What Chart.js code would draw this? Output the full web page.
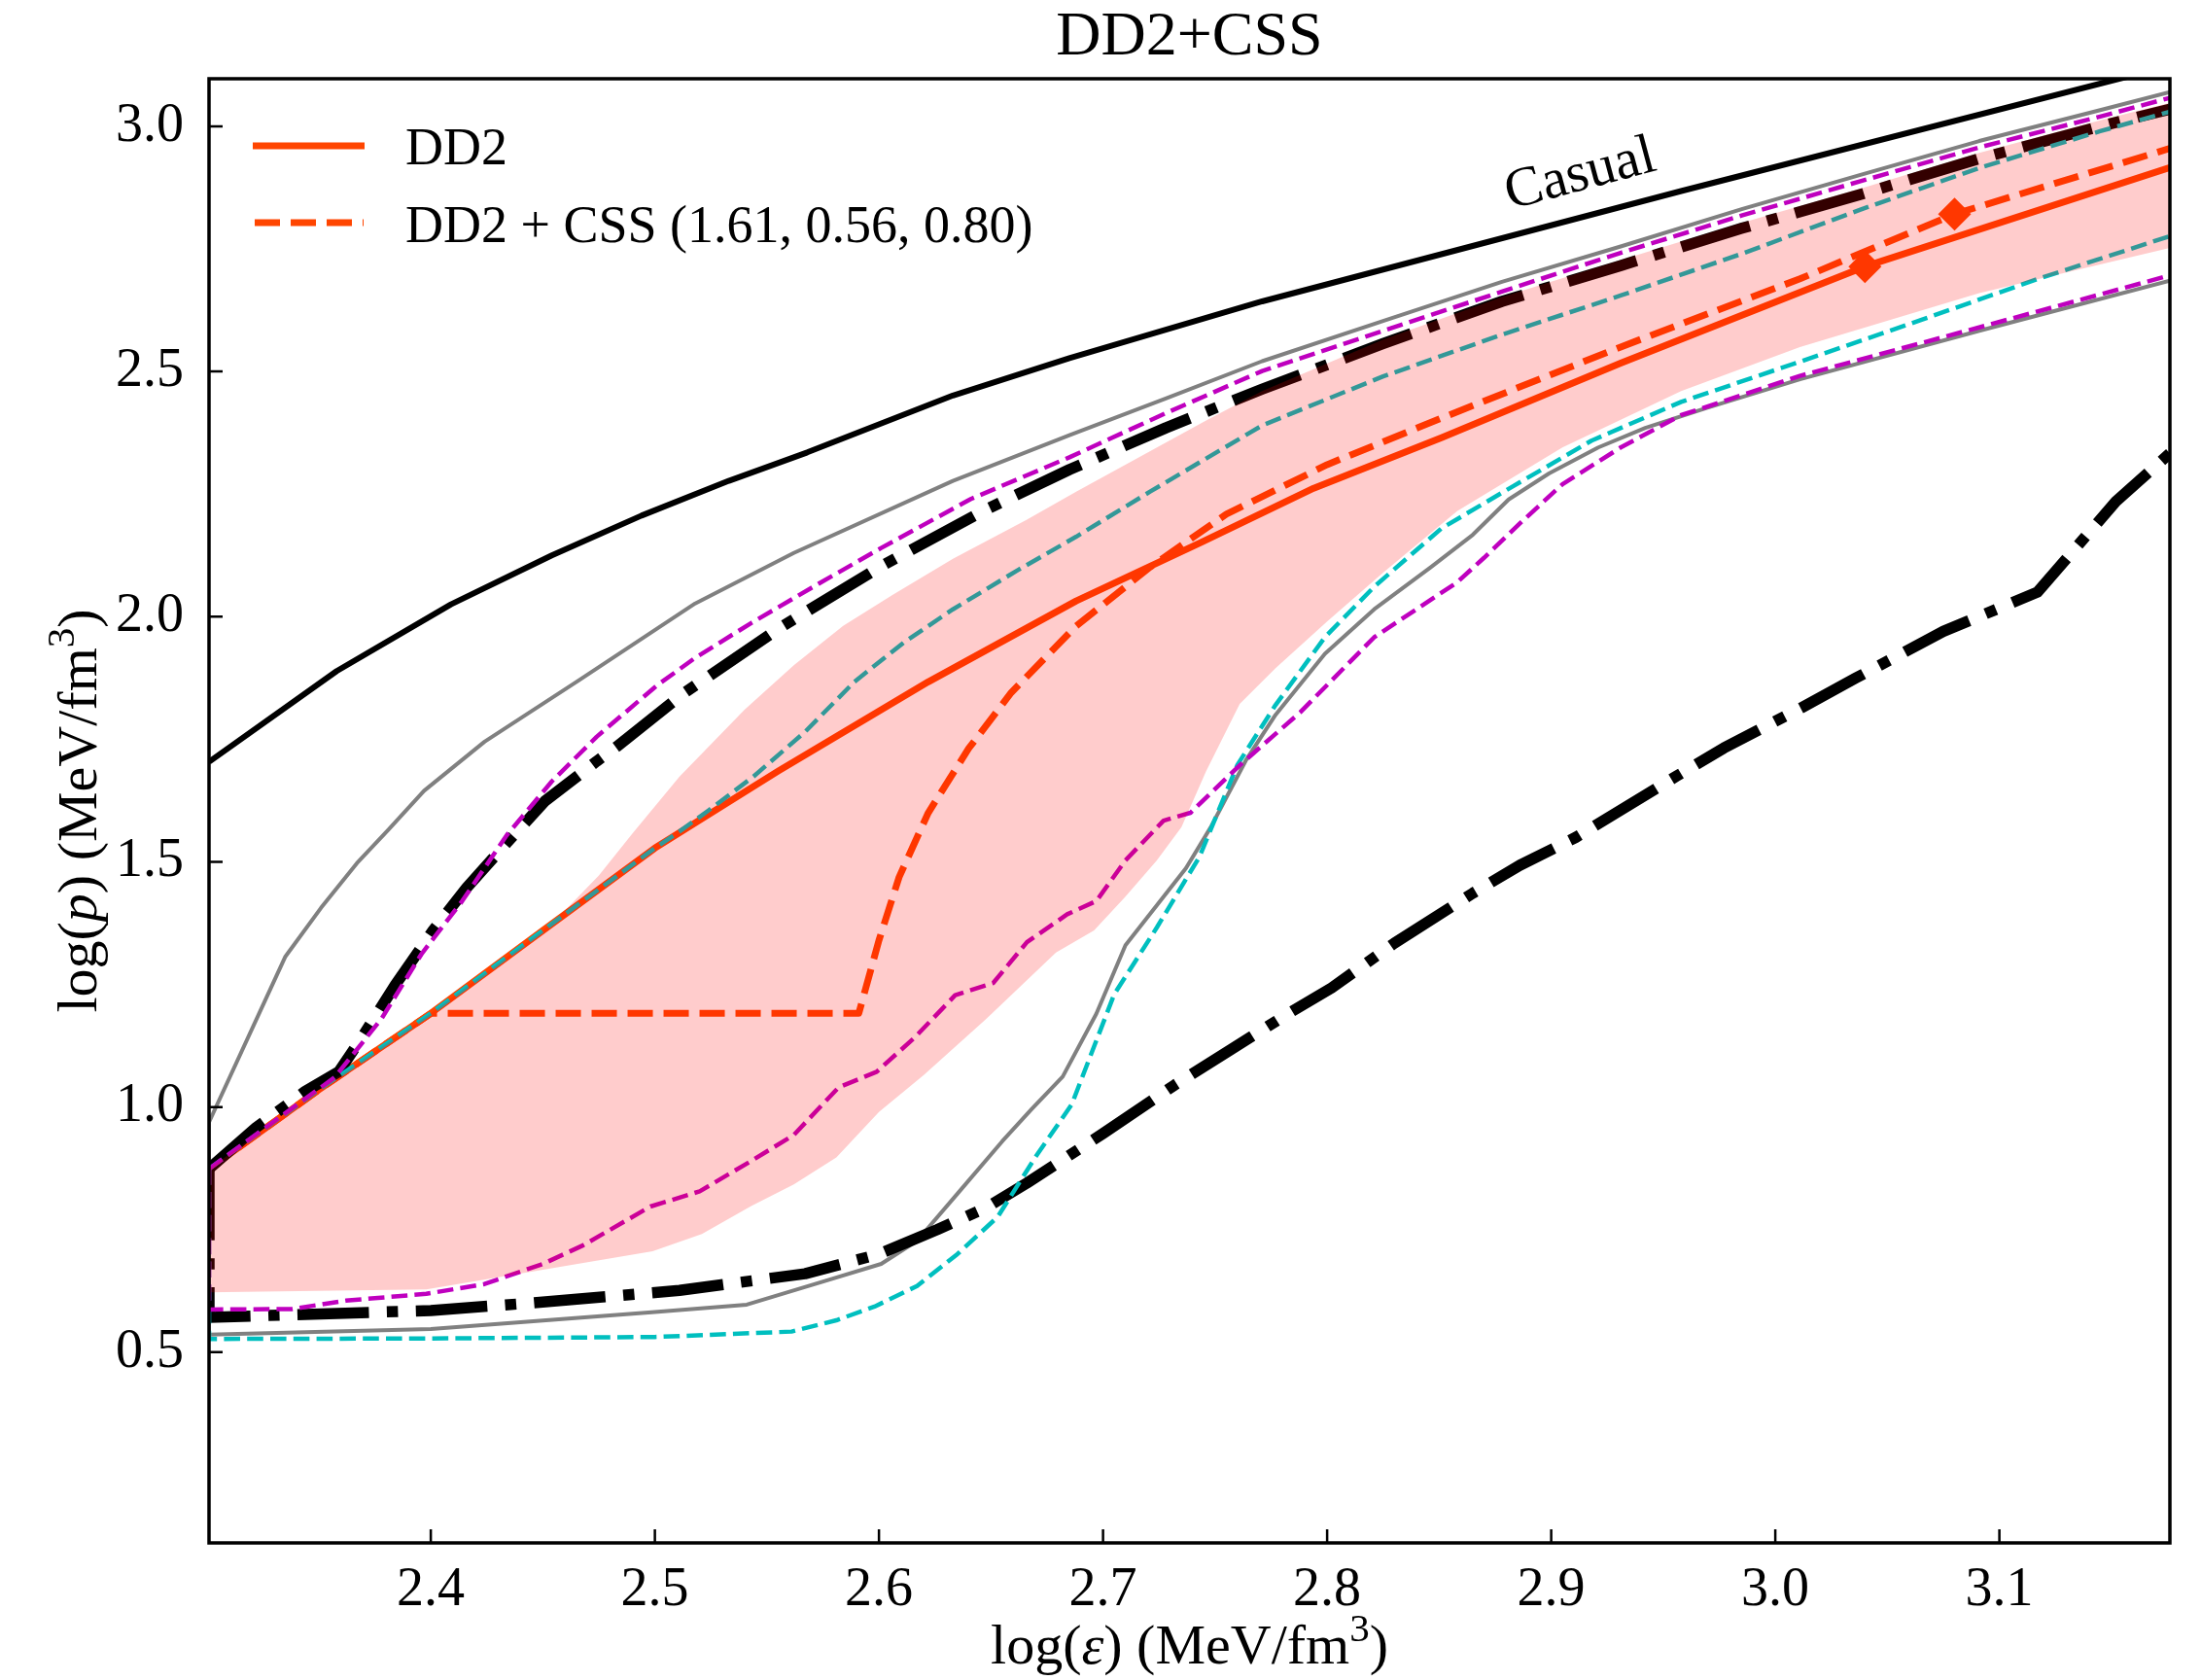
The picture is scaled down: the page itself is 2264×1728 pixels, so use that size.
<!DOCTYPE html>
<html>
<head>
<meta charset="utf-8">
<script src="https://cdn.jsdelivr.net/npm/chart.js@4.4.1/dist/chart.umd.min.js"></script>
<style>
  html, body { margin: 0; padding: 0; background: #fff; }
</style>
</head>
<body>
<canvas id="eos" width="2264" height="1728"></canvas>
<script>
// axis ranges and ticks (log10 of energy density / pressure)
const xRange = [2.30103, 3.17609];
const yRange = [0.111, 3.097];
const xTicks = [2.4, 2.5, 2.6, 2.7, 2.8, 2.9, 3.0, 3.1];
const yTicks = [0.5, 1.0, 1.5, 2.0, 2.5, 3.0];

// causality limit
const causal = [[2.30103,1.704],[2.358,1.889],[2.409,2.025],[2.454,2.125],[2.494,2.206],[2.533,2.277],[2.568,2.335],[2.633,2.451],[2.685,2.527],[2.771,2.643],[2.958,2.868],[3.150,3.093],[3.17609,3.123]];

// DD2 and DD2 + CSS
const dd2 = [[2.30103,0.874],[2.35,1.035],[2.40,1.191],[2.45,1.36],[2.50,1.528],[2.555,1.685],[2.622,1.867],[2.688,2.032],[2.744,2.152],[2.794,2.262],[2.851,2.365],[2.931,2.517],[3.040,2.714],[3.17609,2.916]];
const dd2Css = [[2.30103,0.874],[2.35,1.035],[2.40,1.191],[2.591,1.191],[2.600,1.34],[2.609,1.469],[2.622,1.600],[2.640,1.731],[2.659,1.845],[2.688,1.981],[2.721,2.101],[2.755,2.209],[2.80,2.31],[2.851,2.405],[2.931,2.550],[3.011,2.689],[3.080,2.821],[3.17609,2.955]];
const centralPoints = [[3.040,2.714],[3.080,2.821]];

// bands: upper / lower edges
const grayUpper = [[2.30103,0.969],[2.335,1.306],[2.351,1.406],[2.367,1.497],[2.381,1.565],[2.397,1.645],[2.424,1.745],[2.466,1.87],[2.518,2.027],[2.562,2.130],[2.633,2.277],[2.685,2.370],[2.728,2.445],[2.771,2.521],[2.825,2.603],[2.878,2.683],[2.931,2.755],[2.985,2.831],[3.038,2.901],[3.091,2.970],[3.145,3.033],[3.17609,3.070]];
const grayLower = [[2.30103,0.969],[2.30103,0.536],[2.40,0.547],[2.50,0.582],[2.541,0.597],[2.578,0.648],[2.601,0.68],[2.617,0.727],[2.635,0.823],[2.655,0.93],[2.668,0.995],[2.682,1.062],[2.697,1.19],[2.710,1.33],[2.737,1.487],[2.748,1.57],[2.764,1.709],[2.777,1.80],[2.799,1.924],[2.821,2.015],[2.846,2.10],[2.865,2.167],[2.881,2.239],[2.899,2.292],[2.921,2.345],[2.942,2.385],[2.969,2.425],[3.011,2.484],[3.091,2.583],[3.17609,2.685]];

const magentaUpper = [[2.30103,0.874],[2.357,1.06],[2.378,1.18],[2.396,1.313],[2.414,1.42],[2.434,1.555],[2.454,1.664],[2.474,1.755],[2.501,1.860],[2.518,1.916],[2.543,1.987],[2.573,2.067],[2.601,2.140],[2.641,2.24],[2.685,2.325],[2.728,2.415],[2.771,2.501],[2.825,2.583],[2.878,2.663],[2.931,2.742],[2.985,2.818],[3.038,2.888],[3.091,2.957],[3.145,3.020],[3.17609,3.058]];
const magentaLower = [[2.30103,0.874],[2.30103,0.587],[2.338,0.588],[2.362,0.605],[2.398,0.619],[2.424,0.639],[2.450,0.68],[2.468,0.718],[2.498,0.797],[2.520,0.828],[2.543,0.89],[2.562,0.943],[2.582,1.04],[2.599,1.072],[2.616,1.142],[2.634,1.228],[2.651,1.253],[2.666,1.336],[2.684,1.393],[2.697,1.42],[2.710,1.503],[2.727,1.584],[2.739,1.60],[2.761,1.697],[2.788,1.805],[2.821,1.958],[2.858,2.07],[2.870,2.12],[2.886,2.19],[2.905,2.27],[2.931,2.345],[2.958,2.411],[3.011,2.491],[3.091,2.59],[3.17609,2.696]];

const cyanUpper = [[2.30103,0.874],[2.35,1.035],[2.40,1.191],[2.45,1.36],[2.50,1.528],[2.511,1.562],[2.524,1.605],[2.544,1.674],[2.567,1.765],[2.589,1.867],[2.611,1.947],[2.633,2.015],[2.662,2.095],[2.688,2.163],[2.721,2.255],[2.771,2.39],[2.825,2.49],[2.878,2.575],[2.931,2.655],[2.985,2.74],[3.038,2.83],[3.091,2.915],[3.145,2.99],[3.17609,3.03]];
const cyanLower = [[2.30103,0.874],[2.30103,0.527],[2.40,0.528],[2.50,0.531],[2.561,0.542],[2.581,0.565],[2.598,0.593],[2.617,0.635],[2.635,0.70],[2.653,0.776],[2.670,0.899],[2.686,1.005],[2.705,1.23],[2.724,1.366],[2.743,1.51],[2.760,1.698],[2.777,1.82],[2.799,1.958],[2.821,2.061],[2.851,2.18],[2.883,2.266],[2.918,2.359],[2.958,2.438],[3.011,2.52],[3.065,2.605],[3.118,2.69],[3.17609,2.776]];

const dashDotUpper = [[2.30103,0.874],[2.322,0.958],[2.344,1.032],[2.359,1.072],[2.369,1.140],[2.384,1.248],[2.401,1.36],[2.416,1.447],[2.434,1.539],[2.451,1.624],[2.474,1.705],[2.483,1.735],[2.513,1.844],[2.556,1.978],[2.601,2.103],[2.648,2.219],[2.685,2.30],[2.728,2.385],[2.771,2.464],[2.825,2.557],[2.878,2.643],[2.931,2.716],[2.985,2.792],[3.038,2.861],[3.091,2.934],[3.145,3.000],[3.17609,3.035]];
const dashDotLower = [[2.30103,0.874],[2.30103,0.571],[2.40,0.585],[2.444,0.600],[2.511,0.626],[2.567,0.66],[2.600,0.70],[2.626,0.75],[2.648,0.795],[2.666,0.845],[2.70,0.946],[2.732,1.045],[2.757,1.117],[2.781,1.186],[2.802,1.243],[2.830,1.334],[2.865,1.436],[2.886,1.493],[2.911,1.550],[2.956,1.675],[2.977,1.732],[3.012,1.815],[3.036,1.875],[3.075,1.97],[3.117,2.05],[3.152,2.235],[3.17609,2.333]];

// shaded region
const bandUpper = [[2.30103,0.874],[2.35,1.035],[2.40,1.191],[2.45,1.36],[2.461,1.406],[2.475,1.472],[2.490,1.558],[2.511,1.674],[2.540,1.810],[2.562,1.901],[2.584,1.981],[2.606,2.044],[2.633,2.118],[2.666,2.198],[2.688,2.255],[2.746,2.40],[2.771,2.46],[2.825,2.565],[2.878,2.652],[2.931,2.727],[2.985,2.803],[3.038,2.873],[3.091,2.946],[3.145,3.012],[3.17609,3.048]];
const bandLower = [[2.30103,0.874],[2.30103,0.622],[2.398,0.628],[2.499,0.706],[2.521,0.741],[2.543,0.798],[2.562,0.842],[2.581,0.897],[2.600,0.99],[2.620,1.065],[2.648,1.18],[2.679,1.315],[2.696,1.36],[2.710,1.429],[2.724,1.503],[2.735,1.571],[2.746,1.685],[2.761,1.822],[2.777,1.895],[2.80,1.99],[2.825,2.09],[2.858,2.215],[2.905,2.345],[2.958,2.46],[3.011,2.55],[3.091,2.66],[3.17609,2.752]];

const causalLabelAt = [2.913, 2.90];

const W = 2264, H = 1728;
const area = { top: 81, bottom: 1587, left: 215, right: 2232 };
const SERIF = '"Liberation Serif", "DejaVu Serif", serif';
const ORANGE = '#ff4500';

const pts = arr => arr.map(([x, y]) => ({ x, y }));

function line(data, color, width, dash, order) {
  return {
    data: pts(data), borderColor: color, borderWidth: width, borderDash: dash || [],
    borderJoinStyle: 'round', pointRadius: 0, fill: false, order, clip: 0
  };
}

const datasets = [
  // shaded band goes on top, like an alpha overlay
  {
    data: pts(bandUpper.concat(bandLower.slice().reverse())),
    borderWidth: 0, pointRadius: 0, backgroundColor: 'rgba(255,0,0,0.2)',
    fill: 'shape', order: 0, clip: 0
  },
  line(magentaUpper, '#bf00bf', 4.5, [16.6, 7.2], 1),
  line(magentaLower, '#bf00bf', 4.5, [16.6, 7.2], 1),
  line(cyanUpper, '#00bfbf', 4.5, [16.6, 7.2], 2),
  line(cyanLower, '#00bfbf', 4.5, [16.6, 7.2], 2),
  line(dashDotUpper, '#000', 11.5, [73.6, 18.4, 11.5, 18.4], 3),
  line(dashDotLower, '#000', 11.5, [73.6, 18.4, 11.5, 18.4], 3),
  line(grayUpper, '#808080', 4, null, 4),
  line(grayLower, '#808080', 4, null, 4),
  line(causal, '#000', 6, null, 5),
  {
    data: pts(centralPoints), showLine: false, pointStyle: 'rectRot', pointRadius: 17,
    pointBackgroundColor: ORANGE, pointBorderWidth: 0, order: 6, clip: 0
  },
  line(dd2Css, ORANGE, 7, [26, 11], 7),
  line(dd2, ORANGE, 7, null, 8)
];

// text with italic and superscript pieces
function drawRuns(ctx, runs, x, y, size, align) {
  const fontFor = st => (st === 'i' ? 'italic ' : '') + (st === 'sup' ? Math.round(size * 0.7) : size) + 'px ' + SERIF;
  let w = 0;
  runs.forEach(([t, st]) => { ctx.font = fontFor(st); w += ctx.measureText(t).width; });
  let cx = align === 'center' ? x - w / 2 : x;
  ctx.textAlign = 'left';
  ctx.textBaseline = 'alphabetic';
  runs.forEach(([t, st]) => {
    ctx.font = fontFor(st);
    ctx.fillText(t, cx, st === 'sup' ? y - size * 0.4 : y);
    cx += ctx.measureText(t).width;
  });
}

const decorations = {
  id: 'decorations',
  afterDraw(chart) {
    const { ctx, chartArea: a, scales: { x, y } } = chart;
    ctx.save();
    ctx.fillStyle = '#000';
    ctx.strokeStyle = '#000';

    // inward ticks
    ctx.lineWidth = 2.5;
    ctx.beginPath();
    xTicks.forEach(v => { const px = x.getPixelForValue(v); ctx.moveTo(px, a.bottom); ctx.lineTo(px, a.bottom - 14); });
    yTicks.forEach(v => { const py = y.getPixelForValue(v); ctx.moveTo(a.left, py); ctx.lineTo(a.left + 14, py); });
    ctx.stroke();

    // frame
    ctx.lineWidth = 3.5;
    ctx.strokeRect(a.left, a.top, a.right - a.left, a.bottom - a.top);

    // title
    ctx.font = '64px ' + SERIF;
    ctx.textAlign = 'center';
    ctx.textBaseline = 'alphabetic';
    ctx.fillText('DD2+CSS', (a.left + a.right) / 2, 56);

    // axis titles
    drawRuns(ctx, [['log(', ''], ['ε', 'i'], [') (MeV/fm', ''], ['3', 'sup'], [')', '']], (a.left + a.right) / 2, 1711, 58, 'center');
    ctx.save();
    ctx.translate(99, (a.top + a.bottom) / 2);
    ctx.rotate(-Math.PI / 2);
    drawRuns(ctx, [['log(', ''], ['p', 'i'], [') (MeV/fm', ''], ['3', 'sup'], [')', '']], 0, 0, 58, 'center');
    ctx.restore();

    // causal label along the limit line
    ctx.save();
    ctx.translate(x.getPixelForValue(causalLabelAt[0]), y.getPixelForValue(causalLabelAt[1]));
    ctx.rotate(-15 * Math.PI / 180);
    ctx.font = '58px ' + SERIF;
    ctx.textAlign = 'center';
    ctx.textBaseline = 'middle';
    ctx.fillText('Casual', 0, 0);
    ctx.restore();

    // legend
    ctx.strokeStyle = ORANGE;
    ctx.lineWidth = 7;
    ctx.lineCap = 'butt';
    ctx.beginPath(); ctx.moveTo(260, 150); ctx.lineTo(375, 150); ctx.stroke();
    ctx.setLineDash([26, 11]);
    ctx.beginPath(); ctx.moveTo(262, 229); ctx.lineTo(374, 229); ctx.stroke();
    ctx.setLineDash([]);
    ctx.font = '54px ' + SERIF;
    ctx.textAlign = 'left';
    ctx.textBaseline = 'alphabetic';
    ctx.fillText('DD2', 417, 169);
    ctx.fillText('DD2 + CSS (1.61, 0.56, 0.80)', 417, 249);
    ctx.restore();
  }
};

new Chart(document.getElementById('eos'), {
  type: 'line',
  data: { datasets },
  options: {
    responsive: false,
    devicePixelRatio: 1,
    animation: false,
    events: [],
    layout: { padding: { top: area.top, right: W - area.right, left: 0, bottom: 0 } },
    plugins: { legend: { display: false }, tooltip: { enabled: false }, title: { display: false } },
    scales: {
      x: {
        type: 'linear', min: xRange[0], max: xRange[1],
        afterBuildTicks: s => { s.ticks = xTicks.map(v => ({ value: v })); },
        afterFit: s => { s.height = H - area.bottom; },
        grid: { display: false, drawTicks: false },
        border: { display: false },
        ticks: { autoSkip: false, maxRotation: 0, padding: 16, color: '#000', font: { family: SERIF, size: 56 }, callback: v => v.toFixed(1) }
      },
      y: {
        type: 'linear', min: yRange[0], max: yRange[1],
        afterBuildTicks: s => { s.ticks = yTicks.map(v => ({ value: v })); },
        afterFit: s => { s.width = area.left; },
        grid: { display: false, drawTicks: false },
        border: { display: false },
        ticks: { autoSkip: false, padding: 26, color: '#000', font: { family: SERIF, size: 56 }, callback: v => v.toFixed(1) }
      }
    }
  },
  plugins: [decorations]
});
</script>
</body>
</html>
